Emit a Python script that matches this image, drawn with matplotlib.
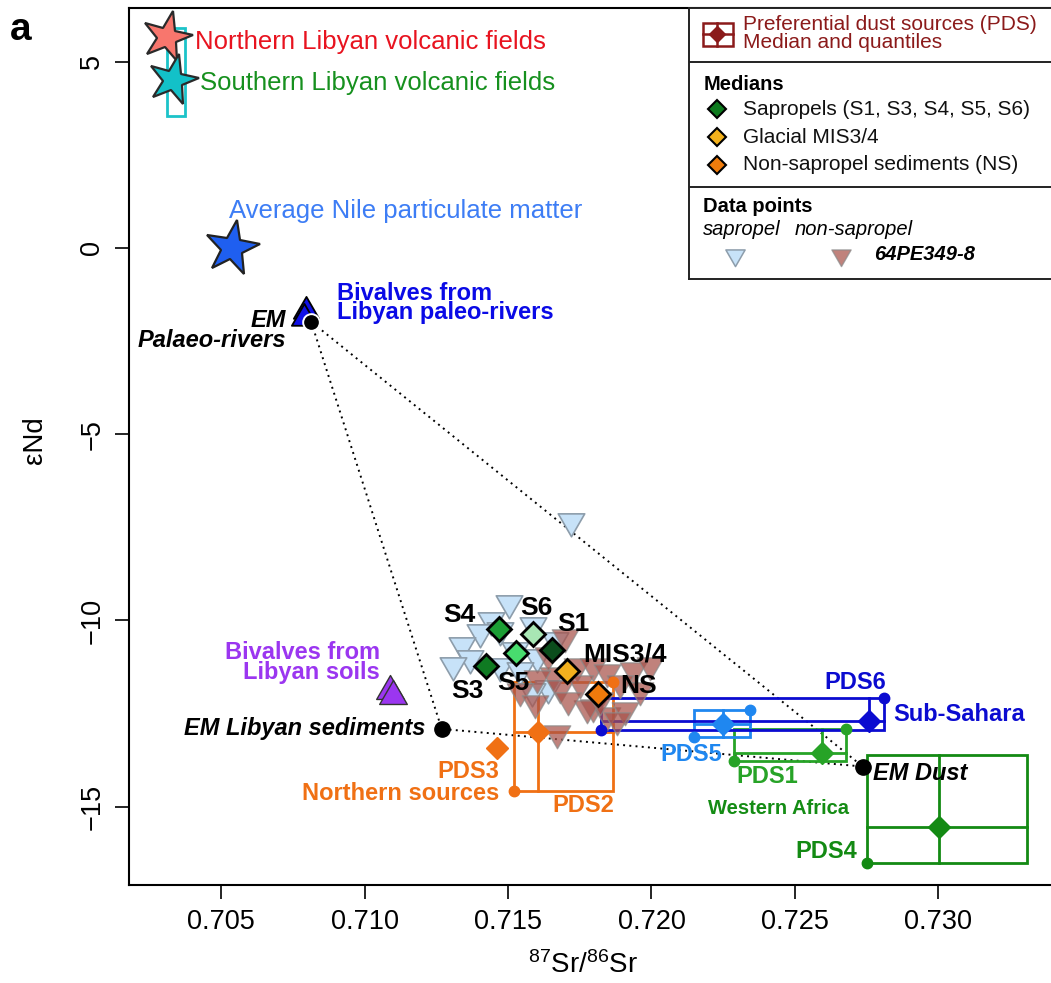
"""Sr-Nd isotope diagram: sediment data, medians and preferential dust sources."""

import matplotlib

matplotlib.use("Agg")

import matplotlib.pyplot as plt
from matplotlib.markers import MarkerStyle
from matplotlib.patches import Rectangle
from matplotlib.path import Path
from matplotlib.transforms import Affine2D

plt.rcParams["font.family"] = ["Liberation Sans", "DejaVu Sans"]
plt.rcParams["mathtext.fontset"] = "custom"
plt.rcParams["mathtext.rm"] = "Liberation Sans"
plt.rcParams["mathtext.default"] = "regular"


# individual measurements (core 64PE349-8)
SAPROPEL_SR = [0.71718, 0.71505, 0.71440, 0.71472, 0.71402, 0.71339, 0.71368,
               0.71309, 0.71588, 0.71600, 0.71472, 0.71542, 0.71640, 0.71583,
               0.71524, 0.71664]
SAPROPEL_ND = [-7.32, -9.53, -9.98, -10.25, -10.30, -10.65, -11.01,
               -11.19, -10.12, -10.97, -11.23, -11.32, -11.81, -11.90,
               -10.79, -10.52]

NON_SAPROPEL_SR = [0.71699, 0.71739, 0.71797, 0.71844, 0.71937, 0.71960,
                   0.71658, 0.71600, 0.71681, 0.71751, 0.71542, 0.71594,
                   0.71797, 0.71844, 0.71908, 0.71879, 0.71670, 0.71890,
                   0.71774, 0.71821, 0.71709, 0.71639, 0.71995]
NON_SAPROPEL_ND = [-10.43, -11.23, -11.23, -11.37, -11.32, -11.86,
                   -11.46, -11.55, -11.81, -11.68, -11.90, -12.22,
                   -12.31, -12.53, -12.40, -12.66, -13.02, -11.67,
                   -12.35, -12.13, -12.13, -10.92, -11.19]

# medians per interval
MEDIAN_LABELS = ["S1", "S3", "S4", "S5", "S6", "MIS3/4", "NS"]
MEDIAN_SR = [0.71654, 0.71423, 0.71470, 0.71527, 0.71588, 0.71704, 0.71815]
MEDIAN_ND = [-10.79, -11.23, -10.23, -10.87, -10.36, -11.35, -11.97]

# preferential dust sources: quantile box and median
PDS_LABELS = ["PDS1", "PDS2", "PDS4", "PDS5", "PDS6"]
PDS_SR_LOW = [0.72287, 0.71522, 0.72752, 0.72149, 0.71823]
PDS_SR_MEDIAN = [0.72593, 0.71603, 0.73002, 0.72248, 0.72759]
PDS_SR_HIGH = [0.72677, 0.71867, 0.73307, 0.72343, 0.72810]
PDS_ND_LOW = [-13.78, -14.59, -16.51, -13.13, -12.95]
PDS_ND_MEDIAN = [-13.56, -12.98, -15.54, -12.77, -12.69]
PDS_ND_HIGH = [-12.91, -11.64, -13.60, -12.40, -12.08]
PDS_UPPER_DOT = [True, True, False, True, True]

PDS3_SR = [0.71461]
PDS3_ND = [-13.42]

# end members of the mixing triangle
END_MEMBER_SR = [0.70814, 0.71269, 0.72736]
END_MEMBER_ND = [-1.98, -12.91, -13.92]

# other reference sources
VOLCANIC_LABELS = ["Northern Libyan volcanic fields",
                   "Southern Libyan volcanic fields"]
VOLCANIC_SR = [0.70311, 0.70334]
VOLCANIC_ND = [5.67, 4.51]
SOUTH_VOLCANIC_SR_RANGE = [0.70311, 0.70375]
SOUTH_VOLCANIC_ND_RANGE = [3.55, 5.90]

NILE_SR = [0.7054]
NILE_ND = [0.0]

RIVER_BIVALVE_SR = [0.70796, 0.70789]
RIVER_BIVALVE_ND = [-1.69, -1.88]

SOIL_BIVALVE_SR = [0.71089, 0.71100]
SOIL_BIVALVE_ND = [-11.90, -12.04]

X_TICKS = [0.705, 0.710, 0.715, 0.720, 0.725, 0.730]
Y_TICKS = [-15, -10, -5, 0, 5]


MEDIAN_COLORS = ["#0b4d1c", "#0f7a22", "#1c9e35", "#48dc6e", "#a8e6b4",
                 "#f2b01e", "#f07a0c"]
# label offsets (points) from each median diamond
MEDIAN_OFFSETS = [(15, 19), (-13.5, -17.5), (-29, 10), (-1.5, -21.5),
                  (2.5, 18.5), (12, 11.5), (15.5, 5.5)]
MEDIAN_HA = ["center"] * 5 + ["left", "left"]

PDS_COLORS = ["#27a327", "#f07014", "#138a13", "#1f87f0", "#0b0bd0"]
ORANGE = "#f07014"

DOWN_TRI = Path([(-1, 0.577), (1, 0.577), (0, -1.155), (-1, 0.577)],
                [Path.MOVETO, Path.LINETO, Path.LINETO, Path.CLOSEPOLY])
UP_TRI = Path([(-1, -0.577), (1, -0.577), (0, 1.155), (-1, -0.577)],
              [Path.MOVETO, Path.LINETO, Path.LINETO, Path.CLOSEPOLY])

BOLD = dict(fontweight="bold")
BOLD_ITALIC = dict(fontweight="bold", fontstyle="italic")


def tilted_star(angle):
    return MarkerStyle("*", transform=Affine2D().rotate_deg(angle))


def draw_sources(ax):
    # mixing triangle between the three end members
    sr = END_MEMBER_SR + END_MEMBER_SR[:1]
    nd = END_MEMBER_ND + END_MEMBER_ND[:1]
    ax.plot(sr, nd, ls=(0, (1, 2.2)), color="black", lw=1.4, zorder=1)

    ax.add_patch(Rectangle(
        (SOUTH_VOLCANIC_SR_RANGE[0], SOUTH_VOLCANIC_ND_RANGE[0]),
        SOUTH_VOLCANIC_SR_RANGE[1] - SOUTH_VOLCANIC_SR_RANGE[0],
        SOUTH_VOLCANIC_ND_RANGE[1] - SOUTH_VOLCANIC_ND_RANGE[0],
        fill=False, edgecolor="#1cc3c9", lw=2, zorder=2,
    ))

    star_colors = ["#f8766d", "#13c1c8"]
    text_colors = ["#e8131f", "#16901e"]
    for i in range(2):
        ax.plot(VOLCANIC_SR[i], VOLCANIC_ND[i], marker=tilted_star(-14),
                ms=38, mfc=star_colors[i], mec="#2a2a2a", mew=1.6,
                ls="none", zorder=6)
        ax.annotate(VOLCANIC_LABELS[i], (VOLCANIC_SR[i], VOLCANIC_ND[i]),
                    xytext=(20 if i == 0 else 19.5, -3.5 if i == 0 else -2),
                    textcoords="offset points", ha="left", va="center",
                    fontsize=18.5, color=text_colors[i])

    ax.plot(NILE_SR, NILE_ND, marker=tilted_star(-10), ms=41, mfc="#1f5ff0",
            mec="#222222", mew=1.6, ls="none", zorder=6)
    ax.annotate("Average Nile particulate matter", (NILE_SR[0], NILE_ND[0]),
                xytext=(-2.5, 26.5), textcoords="offset points",
                ha="left", va="center", fontsize=18.5, color="#3d7df5")

    ax.plot(RIVER_BIVALVE_SR, RIVER_BIVALVE_ND, marker=UP_TRI, ms=21,
            mfc="#1010e6", mec="black", mew=1.3, ls="none", zorder=6)
    ax.text(0.70903, -1.475, "Bivalves from\nLibyan paleo-rivers",
            fontsize=17, color="#0a0ae6", ha="left", va="center",
            linespacing=0.82, **BOLD)

    ax.plot(SOIL_BIVALVE_SR, SOIL_BIVALVE_ND, marker=UP_TRI, ms=23,
            mfc="#9b36f0", mec="#333333", mew=1.0, ls="none", zorder=6)
    ax.text(0.71054, -11.135, "Bivalves from\nLibyan soils", fontsize=17,
            color="#9b36f0", ha="right", va="center", multialignment="right",
            linespacing=0.82, **BOLD)

    ax.plot(END_MEMBER_SR[:1], END_MEMBER_ND[:1], "o", ms=12, mfc="black",
            mec="white", mew=1.4, zorder=7)
    ax.plot(END_MEMBER_SR[1:], END_MEMBER_ND[1:], "o", ms=11, mfc="black",
            mec="black", zorder=7)
    ax.text(0.70726, -2.225, "EM\nPalaeo-rivers", fontsize=17, ha="right",
            va="center", multialignment="right", linespacing=0.85,
            **BOLD_ITALIC)
    ax.text(0.71211, -12.91, "EM Libyan sediments", fontsize=17, ha="right",
            va="center", **BOLD_ITALIC)
    ax.text(0.72771, -14.12, "EM Dust", fontsize=17, ha="left",
            va="center", **BOLD_ITALIC)


def draw_dust_sources(ax):
    for i in range(len(PDS_LABELS)):
        color = PDS_COLORS[i]
        x0, xm, x1 = PDS_SR_LOW[i], PDS_SR_MEDIAN[i], PDS_SR_HIGH[i]
        y0, ym, y1 = PDS_ND_LOW[i], PDS_ND_MEDIAN[i], PDS_ND_HIGH[i]
        ax.add_patch(Rectangle((x0, y0), x1 - x0, y1 - y0, fill=False,
                               edgecolor=color, lw=2, zorder=2))
        ax.plot([x0, x1], [ym, ym], color=color, lw=2, zorder=2)
        ax.plot([xm, xm], [y0, y1], color=color, lw=2, zorder=2)
        ax.plot(xm, ym, "D", ms=11, mfc=color, mec=color, zorder=5)
        ax.plot(x0, y0, "o", ms=7.5, mfc=color, mec=color, zorder=5)
        if PDS_UPPER_DOT[i]:
            ax.plot(x1, y1, "o", ms=7.5, mfc=color, mec=color, zorder=5)

    ax.plot(PDS3_SR, PDS3_ND, "D", ms=11, mfc=ORANGE, mec=ORANGE, zorder=5)

    ax.text(0.71469, -14.35, "PDS3\nNorthern sources", fontsize=17,
            color=ORANGE, ha="right", va="center", multialignment="right",
            linespacing=0.95, **BOLD)
    ax.text(0.71869, -14.97, "PDS2", fontsize=17, color=ORANGE,
            ha="right", va="center", **BOLD)
    ax.text(0.72246, -13.60, "PDS5", fontsize=17, color=PDS_COLORS[3],
            ha="right", va="center", **BOLD)
    ax.text(0.72297, -14.20, "PDS1", fontsize=17, color=PDS_COLORS[0],
            ha="left", va="center", **BOLD)
    ax.text(0.72197, -15.05, "Western Africa", fontsize=14.5,
            color="#148c14", ha="left", va="center", **BOLD)
    ax.text(0.72717, -16.20, "PDS4", fontsize=17, color=PDS_COLORS[2],
            ha="right", va="center", **BOLD)
    ax.text(0.72709, -11.67, "PDS6", fontsize=17, color=PDS_COLORS[4],
            ha="center", va="center", **BOLD)
    ax.text(0.72842, -12.53, "Sub-Sahara", fontsize=17, color=PDS_COLORS[4],
            ha="left", va="center", **BOLD)


def draw_samples(ax):
    ax.plot(SAPROPEL_SR, SAPROPEL_ND, marker=DOWN_TRI, ms=22, ls="none",
            mfc="#c7e2f8", mec="#8d9dab", mew=1.2, zorder=3)
    ax.plot(NON_SAPROPEL_SR, NON_SAPROPEL_ND, marker=DOWN_TRI, ms=22,
            ls="none", mfc="#a8524a", mec="#8a8a8a", mew=1.0, alpha=0.72,
            zorder=4)

    for i, label in enumerate(MEDIAN_LABELS):
        ax.plot(MEDIAN_SR[i], MEDIAN_ND[i], "D", ms=12.5,
                mfc=MEDIAN_COLORS[i], mec="black", mew=2, zorder=8)
        ax.annotate(label, (MEDIAN_SR[i], MEDIAN_ND[i]),
                    xytext=MEDIAN_OFFSETS[i], textcoords="offset points",
                    ha=MEDIAN_HA[i], va="center", fontsize=19,
                    zorder=9, **BOLD)


def draw_legend(fig):
    leg = fig.add_axes([0.65604, 0.71567, 0.39058, 0.27670])
    leg.set_xlim(689.5, 1100)
    leg.set_ylim(279.5, 7.5)
    leg.set_xticks([])
    leg.set_yticks([])
    for spine in leg.spines.values():
        spine.set_linewidth(1.4)
        spine.set_color("#222222")
    for y in (61.7, 187.3):
        leg.axhline(y, color="#222222", lw=1.4)

    dark_red = "#8b1a1a"
    leg.add_patch(Rectangle((702.7, 22.7), 30, 23.3, fill=False,
                            edgecolor=dark_red, lw=1.8))
    leg.plot([702.7, 732.7], [34.3, 34.3], color=dark_red, lw=1.8)
    leg.plot([717.3, 717.3], [22.7, 46], color=dark_red, lw=1.8)
    leg.plot(717.3, 34.3, "D", ms=8.5, mfc=dark_red, mec=dark_red)
    leg.text(743.3, 33.3, "Preferential dust sources (PDS)\n"
             "Median and quantiles", fontsize=15, color=dark_red,
             va="center", linespacing=0.9)

    leg.text(704, 85, "Medians", fontsize=14.5, va="center", **BOLD)
    items = [
        ("#0d7a1e", "Sapropels (S1, S3, S4, S5, S6)"),
        ("#f4b21c", "Glacial MIS3/4"),
        ("#f07c0c", "Non-sapropel sediments (NS)"),
    ]
    for (color, text), y in zip(items, (109.3, 137.3, 165)):
        leg.plot(717.3, y, "D", ms=9, mfc=color, mec="black", mew=1.5)
        leg.text(742.7, y, text, fontsize=15, va="center", color="#111111")

    leg.text(702.7, 206.7, "Data points", fontsize=14.5, va="center", **BOLD)
    leg.text(702.7, 230, "sapropel", fontsize=14.5, va="center",
             fontstyle="italic")
    leg.text(795, 230, "non-sapropel", fontsize=14.5, va="center",
             fontstyle="italic")
    leg.plot(735, 255, marker=DOWN_TRI, ms=16, mfc="#c7e2f8", mec="#8d9dab",
             mew=1.1)
    leg.plot(841, 255, marker=DOWN_TRI, ms=16, mfc="#a8524a", mec="#8a8a8a",
             mew=1.0, alpha=0.72)
    leg.text(874.3, 255, "64PE349-8", fontsize=14.5, va="center",
             **BOLD_ITALIC)


def main():
    fig = plt.figure(figsize=(10.51, 9.83), dpi=100)
    ax = fig.add_axes([0.12274, 0.09969, 0.89724, 0.89217])

    draw_sources(ax)
    draw_dust_sources(ax)
    draw_samples(ax)

    ax.set_xlim(0.701794, 0.734652)
    ax.set_ylim(-17.1, 6.44)
    ax.set_xticks(X_TICKS)
    ax.set_xticklabels([f"{v:.3f}" for v in X_TICKS])
    ax.set_yticks(Y_TICKS)
    ax.tick_params(direction="out", length=10, width=1.2, labelsize=19.5,
                   pad=7)
    ax.tick_params(axis="y", labelrotation=90)
    for label in ax.get_yticklabels():
        label.set_va("center")
    for spine in ax.spines.values():
        spine.set_linewidth(1.5)

    fig.text(583 / 1051, 1 - 965 / 983, r"$^{87}$Sr/$^{86}$Sr",
             fontsize=20, ha="center", va="center")
    fig.text(35 / 1051, 1 - 440 / 983, "εNd", fontsize=20, rotation=90,
             ha="center", va="center")
    fig.text(10 / 1051, 1 - 30 / 983, "a", fontsize=28, fontweight="bold",
             ha="left", va="center")

    draw_legend(fig)

    fig.savefig("out.png", dpi=100)
    plt.close(fig)


if __name__ == "__main__":
    main()
